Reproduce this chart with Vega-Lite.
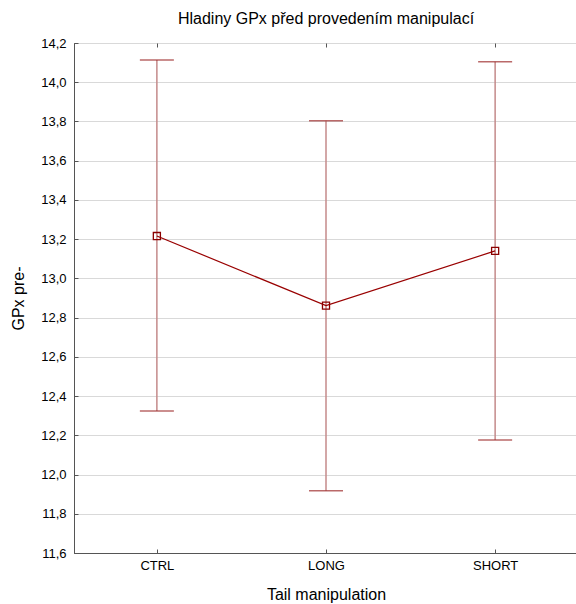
{
  "$schema": "https://vega.github.io/schema/vega-lite/v6.json",
  "autosize": "none",
  "width": 504,
  "height": 510,
  "padding": {"left": 74, "top": 43, "right": 0, "bottom": 51},
  "background": "white",
  "title": {
    "text": "Hladiny GPx před provedením manipulací",
    "font": "Liberation Sans",
    "fontSize": 16,
    "fontWeight": "normal",
    "color": "#000",
    "anchor": "middle",
    "offset": 10
  },
  "config": {
    "view": {"stroke": "#000", "strokeWidth": 1},
    "axis": {
      "labelFont": "Liberation Sans",
      "titleFont": "Liberation Sans",
      "labelFontSize": 13,
      "titleFontSize": 16,
      "titleFontWeight": "normal",
      "labelColor": "#000",
      "titleColor": "#000",
      "domainColor": "#555",
      "tickColor": "#555"
    },
    "axisY": {
      "title": "GPx pre-",
      "values": [11.6, 11.8, 12.0, 12.2, 12.4, 12.6, 12.8, 13.0, 13.2, 13.4, 13.6, 13.8, 14.0, 14.2],
      "labelExpr": "replace(format(datum.value, '.1f'), '.', ',')",
      "labelOverlap": false,
      "labelFlush": false,
      "tickSize": -4,
      "labelPadding": 12,
      "titlePadding": 14,
      "grid": true,
      "gridColor": "#d9d9d9",
      "gridWidth": 1
    },
    "scale": {"zero": false}
  },
  "resolve": {"axis": {"x": "independent"}},
  "data": {
    "values": [
      {"group": "CTRL", "mean": 13.216, "lo": 12.324, "hi": 14.113},
      {"group": "LONG", "mean": 12.861, "lo": 11.917, "hi": 13.804},
      {"group": "SHORT", "mean": 13.14, "lo": 12.176, "hi": 14.105}
    ]
  },
  "layer": [
    {
      "mark": {"type": "rule", "color": "#c48a8a", "strokeWidth": 1.5},
      "encoding": {
        "x": {
          "field": "group",
          "type": "ordinal",
          "scale": {"type": "point", "padding": 0.49},
          "axis": {
            "title": "Tail manipulation",
            "orient": "bottom",
            "labelAngle": 0,
            "tickSize": -4,
            "labelPadding": 10,
            "titlePadding": 14,
            "grid": false
          }
        },
        "y": {
          "field": "lo",
          "type": "quantitative",
          "title": "GPx pre-",
          "scale": {"domain": [11.6, 14.2], "nice": false, "zero": false}
        },
        "y2": {"field": "hi"}
      }
    },
    {
      "mark": {"type": "point", "opacity": 0, "size": 1},
      "encoding": {
        "x": {
          "field": "group",
          "type": "ordinal",
          "axis": {
            "orient": "top",
            "title": null,
            "labels": false,
            "domain": false,
            "tickSize": -4,
            "grid": false
          }
        },
        "y": {"field": "mean", "type": "quantitative", "title": "GPx pre-"}
      }
    },
    {
      "mark": {"type": "tick", "color": "#9c2a2a", "thickness": 1.5, "size": 34, "orient": "horizontal"},
      "encoding": {
        "x": {"field": "group", "type": "ordinal", "axis": null},
        "y": {"field": "lo", "type": "quantitative", "title": "GPx pre-"}
      }
    },
    {
      "mark": {"type": "tick", "color": "#9c2a2a", "thickness": 1.5, "size": 34, "orient": "horizontal"},
      "encoding": {
        "x": {"field": "group", "type": "ordinal", "axis": null},
        "y": {"field": "hi", "type": "quantitative", "title": "GPx pre-"}
      }
    },
    {
      "mark": {"type": "line", "color": "#990000", "strokeWidth": 1.2},
      "encoding": {
        "x": {"field": "group", "type": "ordinal", "axis": null},
        "y": {"field": "mean", "type": "quantitative", "title": "GPx pre-"}
      }
    },
    {
      "mark": {"type": "point", "shape": "square", "filled": false, "color": "#8b0000", "size": 50, "strokeWidth": 1.3, "opacity": 1},
      "encoding": {
        "x": {"field": "group", "type": "ordinal", "axis": null},
        "y": {"field": "mean", "type": "quantitative", "title": "GPx pre-"}
      }
    }
  ]
}
